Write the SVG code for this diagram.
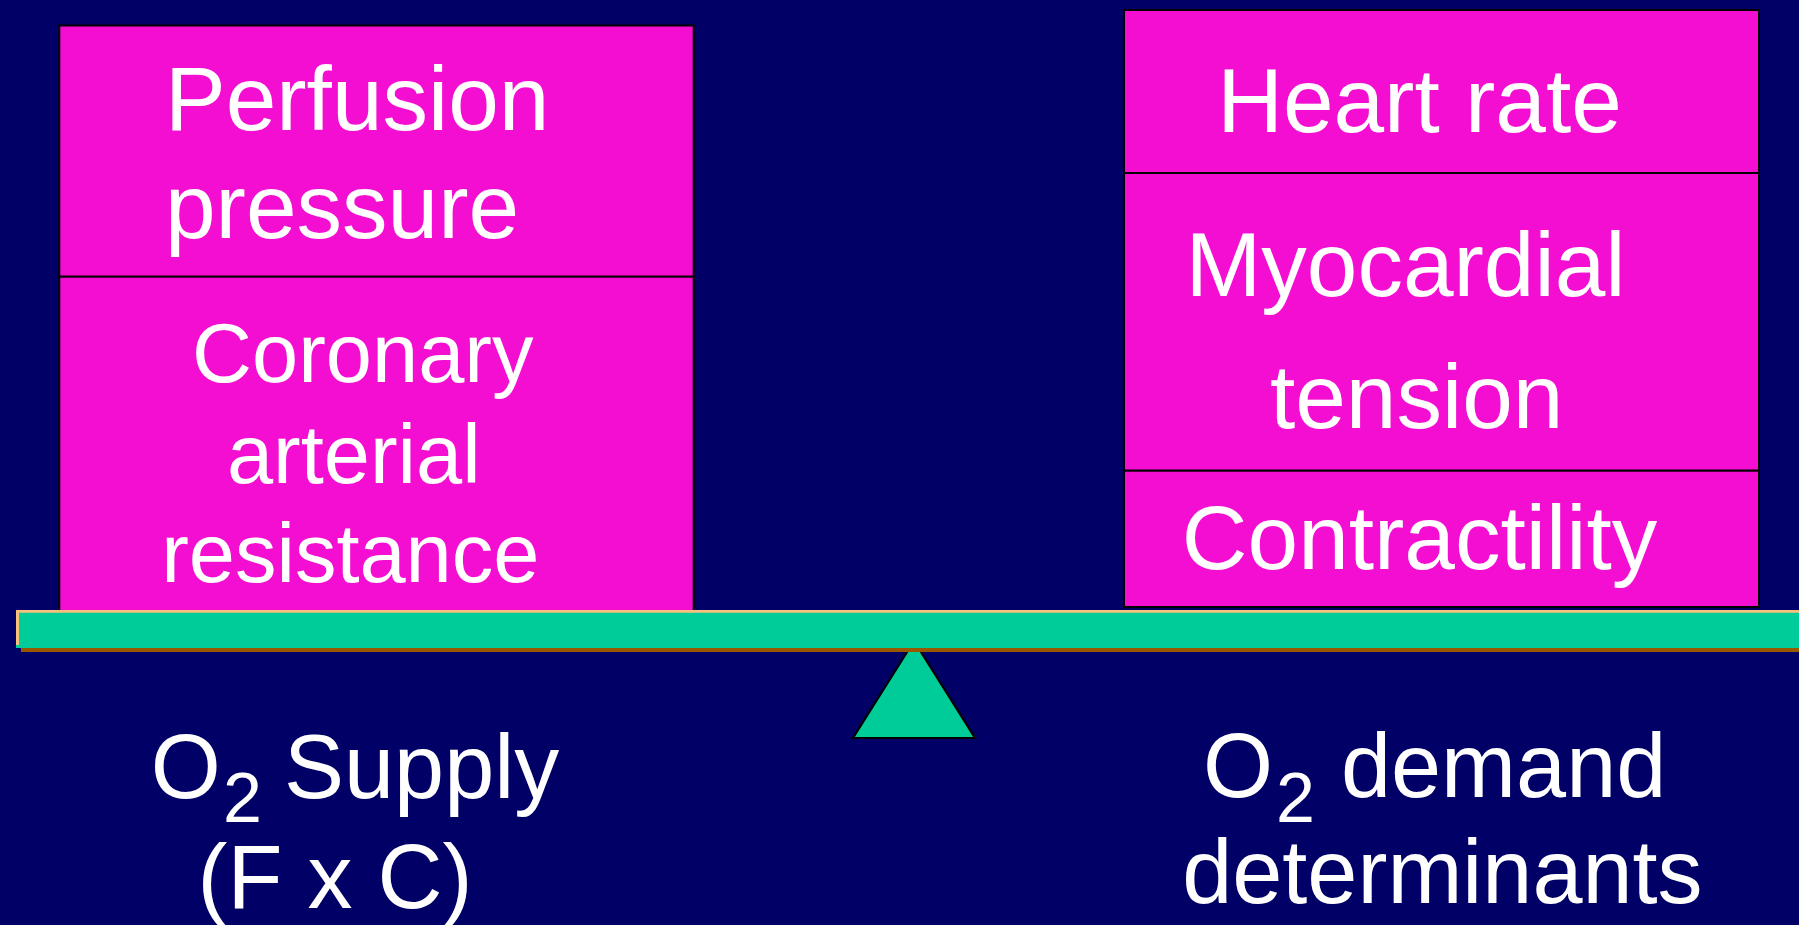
<svg xmlns="http://www.w3.org/2000/svg" width="1799" height="925" viewBox="0 0 1799 925">
  <style>
    .block { fill: #F40ED2; stroke: #000000; stroke-width: 2; }
    .lbl { font-family: "Liberation Sans", Arial, sans-serif; fill: #FFFFFF; }
    .big { font-size: 91px; }
    .mid { font-size: 83px; }
    .cap { font-size: 90px; }
    .c { text-anchor: middle; }
  </style>

  <!-- background -->
  <rect x="0" y="0" width="1799" height="925" fill="#000066"/>

  <!-- supply side stack -->
  <g id="perfusion-pressure">
    <rect class="block" x="59.3" y="25.5" width="634.4" height="251.2"/>
    <text class="lbl big" x="165" y="130">Perfusion</text>
    <text class="lbl big" x="165" y="238.3">pressure</text>
  </g>
  <g id="coronary-resistance">
    <rect class="block" x="59.3" y="276.7" width="634.4" height="336"/>
    <text class="lbl mid c" x="362.8" y="381.7">Coronary</text>
    <text class="lbl mid c" x="353.8" y="482.7">arterial</text>
    <text class="lbl mid c" x="350.3" y="581.7">resistance</text>
  </g>

  <!-- demand side stack -->
  <g id="heart-rate">
    <rect class="block" x="1124" y="10" width="635" height="163"/>
    <text class="lbl big c" x="1419.5" y="132.3">Heart rate</text>
  </g>
  <g id="myocardial-tension">
    <rect class="block" x="1124" y="173" width="635" height="297.7"/>
    <text class="lbl big c" x="1405.5" y="296">Myocardial</text>
    <text class="lbl big c" x="1416.7" y="427.7">tension</text>
  </g>
  <g id="contractility">
    <rect class="block" x="1124" y="470.7" width="635" height="136.3"/>
    <text class="lbl big c" x="1419.5" y="569.3">Contractility</text>
  </g>

  <!-- fulcrum -->
  <g id="fulcrum">
    <polygon points="914,641 853,738 975,738" fill="#00CC99" stroke="#000000" stroke-width="2.2" stroke-linejoin="miter"/>
  </g>

  <!-- balance beam with bevel highlight and drop shadow -->
  <g id="beam">
    <rect x="21" y="614" width="1800" height="38" fill="#995800"/>
    <rect x="16" y="610" width="1800" height="38" fill="#00CC99"/>
    <path d="M16,610 H1799 V612.7 H19 V645 H16 Z" fill="#F8C07C"/>
  </g>

  <!-- captions under the beam -->
  <g id="supply-caption">
    <text class="lbl cap" x="150.7" y="797.7">O<tspan font-size="70" x="223" y="821.7">2</tspan><tspan x="284" y="797.7">Supply</tspan></text>
    <text class="lbl cap c" x="335" y="908.3">(F x C)</text>
  </g>
  <g id="demand-caption">
    <text class="lbl cap" x="1203" y="796.7">O<tspan font-size="70" x="1276" y="821.7">2</tspan><tspan x="1341" y="796.7">demand</tspan></text>
    <text class="lbl cap c" x="1442.4" y="903.3">determinants</text>
  </g>
</svg>
